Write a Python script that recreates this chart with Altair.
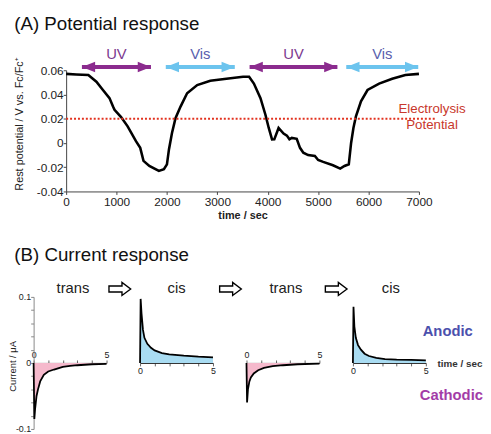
import altair as alt
import pandas as pd

# ---------------- (A) Potential response ----------------
pot_time = [0, 200, 440, 600, 730, 860, 930, 960, 1090, 1220, 1385, 1470, 1535, 1650, 1840,
            1940, 2000, 2040, 2100, 2170, 2270, 2400, 2600, 2860, 3180, 3510, 3630, 3725, 3856,
            3954, 4020, 4085, 4130, 4215, 4314, 4380, 4430, 4477, 4575, 4640, 4706, 4800, 4935,
            5000, 5100, 5294, 5438, 5523, 5608, 5654, 5700, 5750, 5850, 5980, 6210, 6470, 6730, 7000]
pot_value = [0.057, 0.0565, 0.056, 0.0505, 0.0437, 0.037, 0.030, 0.0273, 0.0214, 0.0137, 0.0015,
             -0.004, -0.0148, -0.019, -0.023, -0.0217, -0.0176, -0.0053, 0.0083, 0.0205, 0.030,
             0.041, 0.0478, 0.0513, 0.053, 0.0546, 0.0546, 0.049, 0.037, 0.0233, 0.0124, 0.0029,
             0.003, 0.0124, 0.0078, 0.0061, 0.003, 0.0042, 0.0034, -0.004, -0.008, -0.010, -0.0107,
             -0.014, -0.0156, -0.0184, -0.0211, -0.019, -0.0176, 0.0, 0.0124, 0.022, 0.0343, 0.0437,
             0.049, 0.053, 0.056, 0.057]

light_label = ["UV", "Vis", "UV", "Vis"]
light_start = [313, 1977, 3640, 5558]
light_end = [1683, 3346, 5382, 6986]
light_arrow_level = 0.0627
light_text_level = 0.0733

electrolysis_level = 0.02
electrolysis_line_end = 7320
electrolysis_text = ["Electrolysis", "Potential"]
electrolysis_text_x = [7260, 7260]
electrolysis_text_y = [0.0276, 0.0145]

title_a = ["(A) Potential response"]
title_a_x = [-1031]
title_a_y = [0.0929]

# ---------------- (B) Current response ----------------
trans1_t = [0, 0.05, 0.1, 0.2, 0.3, 0.45, 0.7, 1.0, 1.4, 2.0, 2.5, 3.0, 4.0, 5.0]
trans1_i = [0, -0.085, -0.07, -0.05, -0.04, -0.028, -0.018, -0.013, -0.010, -0.006, -0.0045, -0.0035, -0.002, -0.0015]
cis1_t = [0, 0.04, 0.1, 0.2, 0.3, 0.5, 0.75, 1.0, 1.5, 2.0, 3.0, 4.0, 5.0]
cis1_i = [0, 0.097, 0.075, 0.05, 0.038, 0.029, 0.023, 0.019, 0.015, 0.013, 0.011, 0.0095, 0.0085]
trans2_t = [0, 0.04, 0.1, 0.2, 0.3, 0.5, 0.8, 1.2, 1.8, 2.5, 3.5, 5.0]
trans2_i = [0, -0.06, -0.04, -0.028, -0.022, -0.016, -0.011, -0.0075, -0.005, -0.0035, -0.002, -0.001]
cis2_t = [0, 0.04, 0.1, 0.2, 0.35, 0.55, 0.8, 1.1, 1.6, 2.2, 3.0, 4.0, 5.0]
cis2_i = [0, 0.085, 0.055, 0.038, 0.027, 0.02, 0.014, 0.0105, 0.0075, 0.0058, 0.005, 0.0045, 0.004]

title_b = ["(B) Current response"]
title_b_t = [-1.33]
title_b_i = [0.1537]
panel_names = ["trans", "cis", "trans", "cis"]
panel_name_t = [2.7, 2.5, 2.7, 2.6]
panel_name_i = 0.113
step_arrow_t = [5.91, 6.2, 6.15]
step_arrow_i = 0.112
sign_text = ["Anodic", "Cathodic"]
sign_t = [6.5, 6.75]
sign_i = [0.049, -0.048]
unit_text = ["time / sec"]
unit_t = [5.8]
unit_i = [-0.001]

FONT = "Liberation Sans"
PURPLE = "#8b2b8e"
SKY = "#6cc4ee"

# ---------------- top chart ----------------
xs = alt.Scale(domain=[0, 7000], nice=False)
ys = alt.Scale(domain=[-0.04, 0.06], nice=False)
x_axis_top = alt.Axis(values=list(range(0, 7001, 1000)), format="d",
                      title="time / sec", titleFontWeight="bold", titleFontSize=11, titlePadding=2,
                      labelFontSize=12, tickSize=3, labelPadding=2, grid=False, labelFlush=False)
y_axis_top = alt.Axis(values=[-0.04, -0.02, 0, 0.02, 0.04, 0.06],
                      labelExpr="abs(datum.value) < 1e-9 ? '0' : (datum.value < 0 ? '-' + format(-datum.value, '.2f') : format(datum.value, '.2f'))",
                      title="Rest potential / V vs. Fc/Fc\u207a", titleFontWeight="normal", titleFontSize=11,
                      titleX=-44, titleY=54, titleBaseline="alphabetic", titleAlign="center",
                      labelFontSize=12, tickSize=3, labelPadding=0, grid=False, labelFlush=False)


def TX(field):
    return alt.X(field, scale=xs, axis=x_axis_top)


def TY(field):
    return alt.Y(field, scale=ys, axis=y_axis_top)


pot_df = pd.DataFrame({"time": pot_time, "value": pot_value})
light_df = pd.DataFrame({"label": light_label, "start": light_start, "end": light_end,
                         "level": [light_arrow_level] * 4, "tlevel": [light_text_level] * 4})
thr_df = pd.DataFrame({"x0": [0], "x1": [electrolysis_line_end], "y": [electrolysis_level]})
etext_df = pd.DataFrame({"text": electrolysis_text, "x": electrolysis_text_x, "y": electrolysis_text_y})
ta_df = pd.DataFrame({"text": title_a, "x": title_a_x, "y": title_a_y})

line = alt.Chart(pot_df).mark_line(color="black", strokeWidth=2.6).encode(
    x=TX("time:Q"), y=TY("value:Q"))

thr = alt.Chart(thr_df).mark_rule(color="#e2321f", strokeWidth=2, strokeDash=[2, 2]).encode(
    x=TX("x0:Q"), x2="x1:Q", y=TY("y:Q"))

arrow_color = alt.condition(alt.datum.label == "UV", alt.value(PURPLE), alt.value(SKY))
shafts = alt.Chart(light_df).mark_rule(strokeWidth=4).encode(
    x=TX("start:Q"), x2="end:Q", y=TY("level:Q"), color=arrow_color)
head_r = alt.Chart(light_df).mark_point(shape="M 1 0 L -1 -0.8 L -1 0.8 Z", filled=True, size=180,
                                        opacity=1, xOffset=-6.7).encode(
    x=TX("end:Q"), y=TY("level:Q"), color=arrow_color)
head_l = alt.Chart(light_df).mark_point(shape="M -1 0 L 1 -0.8 L 1 0.8 Z", filled=True, size=180,
                                        opacity=1, xOffset=6.7).encode(
    x=TX("start:Q"), y=TY("level:Q"), color=arrow_color)
light_txt = alt.Chart(light_df).transform_calculate(mid="(datum.start + datum.end) / 2").mark_text(
    fontSize=15, font=FONT).encode(
    x=TX("mid:Q"), y=TY("tlevel:Q"), text="label:N",
    color=alt.condition(alt.datum.label == "UV", alt.value("#7c3a8f"), alt.value("#5a5fae")))
etext = alt.Chart(etext_df).mark_text(fontSize=13.5, font=FONT, color="#c8382c").encode(
    x=TX("x:Q"), y=TY("y:Q"), text="text:N")
ta = alt.Chart(ta_df).mark_text(fontSize=19, font=FONT, color="#111", align="left",
                                baseline="alphabetic").encode(x=TX("x:Q"), y=TY("y:Q"), text="text:N")

top = alt.layer(line, thr, shafts, head_r, head_l, light_txt, etext, ta).properties(width=358, height=123)

spacer = alt.Chart(pd.DataFrame({"a": [0]})).mark_point(opacity=0).encode(
    x=alt.X("a:Q", axis=None), y=alt.Y("a:Q", axis=None)).properties(width=1, height=123)

top_row = alt.hconcat(spacer, top, spacing=32, bounds="flush")

# ---------------- bottom panels ----------------
ts = alt.Scale(domain=[0, 5], nice=False)
cs = alt.Scale(domain=[-0.1, 0.1], nice=False)
x_label_expr = "datum.value == 0 || datum.value == 5 ? datum.label : ''"


def panel(t, i, kind, idx):
    df = pd.DataFrame({"t": t, "i": i})
    fill = "#f5b9cc" if kind == "trans" else "#a9dcf2"
    xaxis = alt.Axis(orient="top" if kind == "trans" else "bottom", offset=-67,
                     values=[0, 1, 2, 3, 4, 5], labelExpr=x_label_expr, title="",
                     labelFontSize=9, tickSize=3, grid=False, labelPadding=1,
                     labelOverlap=False, labelFlush=False,
                     domainColor="#222", tickColor="#666")
    if idx == 0:
        yaxis = alt.Axis(values=[round(-0.1 + 0.02 * k, 2) for k in range(11)],
                         labelExpr="abs(datum.value) < 1e-9 ? '0' : (datum.value < -0.099 ? '-0.1' : (datum.value > 0.099 ? '0.1' : ''))",
                         title="Current / \u03bcA", titleFontSize=9.5, titleFontWeight="normal",
                         titleX=-18, titleY=70, titleBaseline="alphabetic", titleAlign="center",
                         labelFontSize=9, tickSize=3, labelPadding=0, grid=False,
                         labelOverlap=False, labelFlush=False, domainColor="#888", tickColor="#888")
    else:
        yaxis = None

    def PX(field):
        return alt.X(field, scale=ts, axis=xaxis)

    def PY(field):
        if yaxis is None:
            return alt.Y(field, scale=cs, axis=None)
        return alt.Y(field, scale=cs, axis=yaxis)

    area = alt.Chart(df).mark_area(color=fill, opacity=1).encode(x=PX("t:Q"), y=PY("i:Q"))
    curve = alt.Chart(df).mark_line(color="black", strokeWidth=1.8).encode(x=PX("t:Q"), y=PY("i:Q"))
    ndf = pd.DataFrame({"text": [panel_names[idx]], "t": [panel_name_t[idx]], "i": [panel_name_i]})
    name = alt.Chart(ndf).mark_text(fontSize=15, font=FONT, color="#222").encode(
        x=PX("t:Q"), y=PY("i:Q"), text="text:N")
    layers = [area, curve, name]
    if idx == 0:
        bdf = pd.DataFrame({"text": title_b, "t": title_b_t, "i": title_b_i})
        layers.append(alt.Chart(bdf).mark_text(fontSize=19, font=FONT, color="#111", align="left",
                                               baseline="alphabetic").encode(
            x=PX("t:Q"), y=PY("i:Q"), text="text:N"))
    if idx < 3:
        adf = pd.DataFrame({"t": [step_arrow_t[idx]], "i": [step_arrow_i]})
        layers.append(alt.Chart(adf).mark_point(
            shape="M -1 -0.28 L 0.2 -0.28 L 0.2 -0.6 L 1 0 L 0.2 0.6 L 0.2 0.28 L -1 0.28 Z",
            filled=True, fill="white", stroke="black", strokeWidth=1.4, size=484, opacity=1).encode(
            x=PX("t:Q"), y=PY("i:Q")))
    else:
        sdf = pd.DataFrame({"text": sign_text, "t": sign_t, "i": sign_i})
        layers.append(alt.Chart(sdf).mark_text(fontSize=15, fontWeight="bold", font=FONT).encode(
            x=PX("t:Q"), y=PY("i:Q"), text="text:N",
            color=alt.condition(alt.datum.text == "Anodic", alt.value("#4b50ad"), alt.value("#a33ca7"))))
        udf = pd.DataFrame({"text": unit_text, "t": unit_t, "i": unit_i})
        layers.append(alt.Chart(udf).mark_text(fontSize=10, fontWeight="bold", font=FONT, align="left",
                                               color="#333").encode(
            x=PX("t:Q"), y=PY("i:Q"), text="text:N"))
    return alt.layer(*layers).properties(width=74, height=134)


panels = [panel(trans1_t, trans1_i, "trans", 0), panel(cis1_t, cis1_i, "cis", 1),
          panel(trans2_t, trans2_i, "trans", 2), panel(cis2_t, cis2_i, "cis", 3)]

bottom_row = alt.hconcat(*panels, spacing=34, bounds="flush")

chart = alt.vconcat(top_row, bottom_row, spacing=230, bounds="flush").properties(
    padding={"left": 0, "top": 4, "right": 0, "bottom": 0}
).configure(font=FONT).configure_view(strokeWidth=0, stroke="transparent").configure_axis(
    labelFont=FONT, titleFont=FONT, labelColor="#222", titleColor="#222",
    domainColor="#444", tickColor="#444")

chart.save("out.html", embed_options={"renderer": "svg", "actions": False})
